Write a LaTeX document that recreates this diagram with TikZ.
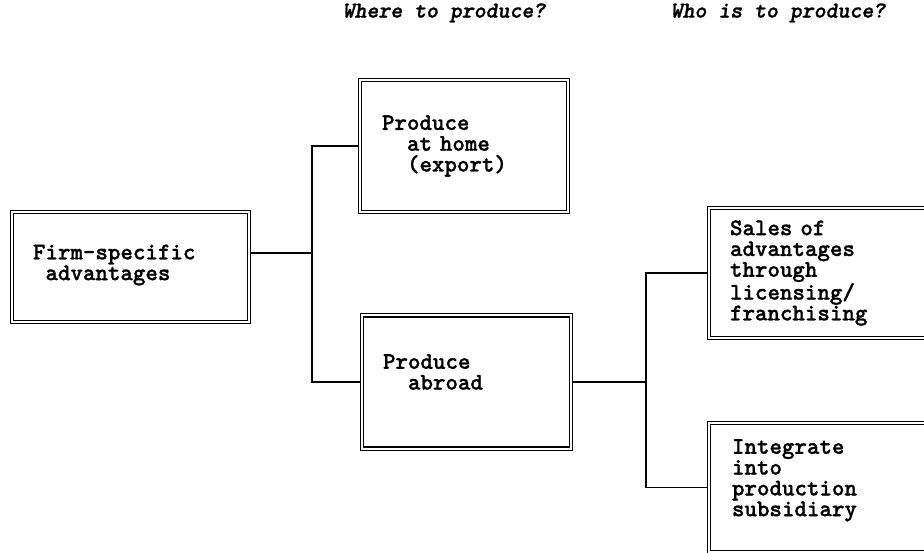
\documentclass[tikz,border=0pt]{standalone}
\usepackage{fontspec}
\newfontfamily\boxfont{lmmonolt10-bold.otf}[FakeBold=1.2]
\newfontfamily\headfont{lmmonolt10-boldoblique.otf}[FakeBold=1.2]
\usetikzlibrary{calc}
\tikzset{
	box/.style={draw, double, line width=1.2pt, double distance=2pt, align=left, anchor=center,
		font=\fontsize{23.8}{20.8}\selectfont\boxfont},
	head/.style={font=\fontsize{22.7}{22}\selectfont\headfont},
	link/.style={line width=1.4pt}
}
\newcommand{\ind}[1]{\hspace*{#1\fontcharwd\font`x}}
\begin{document}
\begin{tikzpicture}[x=1pt,y=-1pt]
		\useasboundingbox (0,0) rectangle (924,553);
		\node[head] (where) at (444,13) {Where to produce?};
		\node[head] (who) at (778,13) {Who is to produce?};
		
		\node[box, minimum width=237pt, minimum height=110pt, inner xsep=21pt, text width=195pt, text depth=30pt] (firm) at (130.5,267) {Firm-specific\\\ind{1}advantages};
		\node[box, minimum width=208pt, minimum height=132pt, inner xsep=22pt, text width=164pt] (home) at (464,146) {Produce\\\ind{2}at home\\\ind{2}(export)};
		\node[box, minimum width=209pt, minimum height=133pt, inner xsep=21pt, text width=167pt, text depth=41pt] (abroad) at (466.5,382) {Produce\\\ind{2}abroad};
		\node[box, minimum width=250pt, minimum height=130pt, inner xsep=21pt, text width=208pt] (sales) at (834,273) {Sales of\\advantages\\through\\licensing/\\franchising};
		\node[box, minimum width=250pt, minimum height=129pt, inner xsep=23pt, text width=204pt, text depth=82pt] (integ) at (834,487.5) {Integrate\\into\\production\\subsidiary};
		
		\coordinate (split1) at (312,253);
		\coordinate (split2) at (646,382);
		\draw[link] (firm.east |- split1) -- (split1);
		\draw[link] (home.west) -| (split1) |- (abroad.west);
		\draw[link] (abroad.east) -- (split2);
		\draw[link] (sales.west) -| (split2) |- (integ.west);
		
	\end{tikzpicture}
\end{document}
